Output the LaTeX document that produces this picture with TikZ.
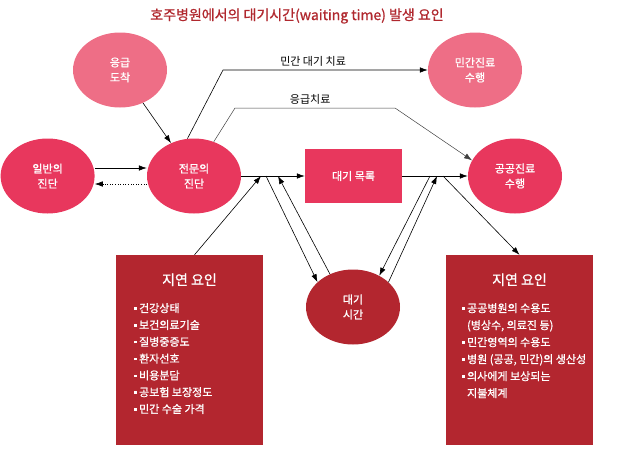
\documentclass[tikz,border=0pt]{standalone}
\usepackage{fontspec}
\setmainfont{Noto Sans CJK KR}
\newfontfamily\medfont[FakeBold=1]{Noto Sans CJK KR}
\usepackage{xcolor}
\usepackage{tikz}
\usetikzlibrary{shapes,arrows.meta,positioning}

\definecolor{lightpink}{HTML}{EE6E86}
\definecolor{hotpink}{HTML}{E8375D}
\definecolor{darkred}{HTML}{B3262F}
\definecolor{titlered}{HTML}{B0282E}

\newcommand{\sqb}{\raisebox{2.6pt}{\rule{2.4pt}{2.4pt}}\hspace{2.5pt}}

\begin{document}
\begin{tikzpicture}[x=1pt, y=-1pt,
        node distance=0.5cm,
        blob/.style={ellipse, draw=none, minimum width=94pt, minimum height=75pt, inner sep=0pt, text=white, align=center, font=\medfont\fontsize{11}{15}\selectfont},
        listbox/.style={rectangle, fill=hotpink, minimum width=97pt, minimum height=54pt, text=white, font=\medfont\fontsize{11}{15}\selectfont},
        delaybox/.style={rectangle, fill=darkred, minimum width=147pt, minimum height=190pt},
        head/.style={text=white, font=\medfont\fontsize{14}{17}\selectfont},
        items/.style={text=white, align=left, inner sep=0pt, anchor=north west, font=\medfont\fontsize{11}{16.8}\selectfont},
        lbl/.style={font=\fontsize{11}{13}\selectfont, text=black},
        arr/.style={line width=0.6pt, -{Latex[length=8pt,width=5.5pt]}},
        ]

        \useasboundingbox (0,0) rectangle (617,474);

        % Title
        \node[font=\medfont\fontsize{14}{16}\selectfont, text=titlered] (title) at (297,16) {호주병원에서의 대기시간(waiting time) 발생 요인};

        % Diagnosis and treatment
        \node[blob, fill=lightpink] (arrival) at (120,70) {응급\\도착};
        \node[blob, fill=hotpink] (specialist) at (194,176) {전문의\\진단};
        \node[blob, fill=hotpink, left=52pt of specialist] (gp) {일반의\\진단};
        \node[blob, fill=lightpink] (private) at (475,70) {민간진료\\수행};
        \node[blob, fill=hotpink] (public) at (515,176) {공공진료\\수행};
        \node[listbox] (waitlist) at (353.5,176) {대기 목록};
        \node[blob, fill=darkred] (waittime) at (353,307) {대기\\시간};

        % Delay factors
        \node[delaybox] (leftbox) at (189.5,350) {};
        \node[head] (lefthead) at ([yshift=-25pt]leftbox.north) {지연 요인};
        \node[items] (leftitems) at (134,303) {\sqb 건강상태\\\sqb 보건의료기술\\\sqb 질병중증도\\\sqb 환자선호\\\sqb 비용분담\\\sqb 공보험 보장정도\\\sqb 민간 수술 가격};

        \node[delaybox] (rightbox) at (519.5,350) {};
        \node[head] (righthead) at ([yshift=-25pt]rightbox.north) {지연 요인};
        \node[items, font=\medfont\fontsize{11}{17}\selectfont] (rightitems) at (462,303) {\sqb 공공병원의 수용도\\\hspace*{4.9pt}(병상수, 의료진 등)\\\sqb 민간영역의 수용도\\\sqb 병원 (공공, 민간)의 생산성\\\sqb 의사에게 보상되는\\\hspace*{4.9pt}지불체계};

        % Junction points
        \coordinate (l1) at (261,176);
        \coordinate (l2) at (266,176);
        \coordinate (l3) at (278,176);
        \coordinate (r1) at (430,176);
        \coordinate (r2) at (437,176);
        \coordinate (r3) at (443,176);

        % Arrows
        \draw[arr] (arrival) -- (specialist);
        \draw[arr] ([yshift=8pt]gp.east) -- ([yshift=8pt]specialist.west);
        \draw[arr, dotted] ([yshift=-8pt]specialist.west) -- ([yshift=-8pt]gp.east);
        \draw[arr] (specialist.east) -- (waitlist.west);
        \draw[arr] (waitlist.east) -- (public.west);

        \draw[arr] (specialist.100) -- (223,70) -- node[lbl, above, pos=0.44] (privlbl) {민간 대기 치료} (private.west);
        \draw[arr, draw=black!75, line width=0.5pt] (specialist.60) -- (235,108) -- node[lbl, above, pos=0.47] (emerglbl) {응급치료} (395,108) -- (public.160);

        \draw[arr] ([xshift=5pt]leftbox.north) -- (l1);
        \draw[arr] (l2) -- (waittime.145);
        \draw[arr] (waittime.125) -- (l3);
        \draw[arr] (r1) -- (waittime.50);
        \draw[arr] (waittime.35) -- (r2);
        \draw[arr] (r3) -- (rightbox.north);

    \end{tikzpicture}
\end{document}
